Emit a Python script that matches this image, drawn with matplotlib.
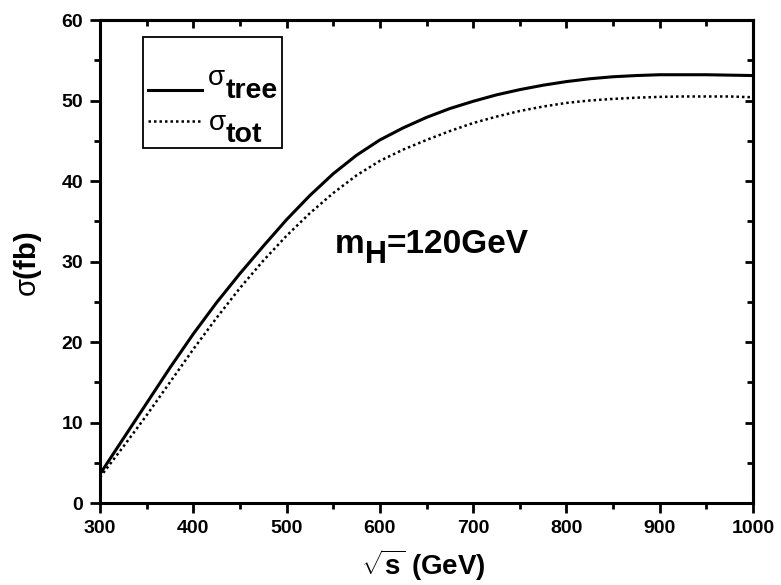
import matplotlib
matplotlib.use("Agg")
import matplotlib.pyplot as plt
from matplotlib.ticker import MultipleLocator
from matplotlib.transforms import IdentityTransform
from matplotlib.lines import Line2D
from matplotlib.patches import Rectangle

plt.rcParams['font.family'] = ['Liberation Sans', 'DejaVu Sans']
plt.rcParams['mathtext.fontset'] = 'custom'
plt.rcParams['mathtext.rm'] = 'Liberation Sans:bold'
plt.rcParams['mathtext.it'] = 'Liberation Sans'
plt.rcParams['mathtext.bf'] = 'Liberation Sans:bold'

sqrt_s = [300, 325, 350, 375, 400, 425, 450, 475, 500, 525, 550, 575, 600, 625, 650,
          675, 700, 725, 750, 775, 800, 825, 850, 875, 900, 925, 950, 975, 1000]
sigma_tree = [3.6, 8.0, 12.4, 16.8, 21.0, 24.9, 28.5, 31.9, 35.2, 38.2, 40.9, 43.2, 45.1, 46.6, 47.9,
              49.0, 49.9, 50.7, 51.35, 51.9, 52.35, 52.7, 52.95, 53.1, 53.2, 53.2, 53.2, 53.15, 53.1]
sigma_tot = [3.2, 7.0, 10.9, 15.0, 19.1, 23.0, 26.7, 30.1, 33.2, 36.0, 38.5, 40.7, 42.5, 43.9, 45.1,
             46.2, 47.2, 48.0, 48.7, 49.25, 49.7, 50.0, 50.2, 50.35, 50.45, 50.5, 50.5, 50.5, 50.4]

W, H = 781, 585
fig = plt.figure(figsize=(W / 100, H / 100), dpi=100)
ax = fig.add_axes([100 / W, (H - 503) / H, 653 / W, 483 / H])

ax.plot(sqrt_s, sigma_tree, color='black', lw=2.2)
ax.plot(sqrt_s, sigma_tot, color='black', lw=1.8, linestyle=(0, (1, 1.2)))

ax.set_xlim(300, 1000)
ax.set_ylim(0, 60)
ax.xaxis.set_major_locator(MultipleLocator(100))
ax.xaxis.set_minor_locator(MultipleLocator(50))
ax.yaxis.set_major_locator(MultipleLocator(10))
ax.yaxis.set_minor_locator(MultipleLocator(5))

for s in ax.spines.values():
    s.set_linewidth(2.2)

ax.tick_params(which='both', direction='out', width=2.0, labelsize=14, top=False, right=False)
ax.tick_params(which='major', length=7, pad=5)
ax.tick_params(which='minor', length=4.5)
for lab in ax.get_xticklabels() + ax.get_yticklabels():
    lab.set_fontweight('bold')

axt = ax.secondary_xaxis('top')
axt.xaxis.set_major_locator(MultipleLocator(100))
axt.xaxis.set_minor_locator(MultipleLocator(50))
axt.tick_params(which='both', direction='in', width=2.0, labeltop=False)
axt.tick_params(which='major', length=6)
axt.tick_params(which='minor', length=4)
axr = ax.secondary_yaxis('right')
axr.yaxis.set_major_locator(MultipleLocator(10))
axr.yaxis.set_minor_locator(MultipleLocator(5))
axr.tick_params(which='both', direction='in', width=2.0, labelright=False)
axr.tick_params(which='major', length=6)
axr.tick_params(which='minor', length=4)
for sax in (axt, axr):
    for s in sax.spines.values():
        s.set_linewidth(2.2)

# axis labels
fig.text(423 / W, (H - 575) / H, r'$\sqrt{\mathbf{s}}$ (GeV)', fontsize=20, fontweight='bold',
         ha='center', va='baseline')
fig.text(28 / W, (H - 264) / H, r'$\sigma$(fb)', fontsize=21, fontweight='bold',
         rotation=90, ha='center', va='center')

ident = IdentityTransform()
fig.canvas.draw()
renderer = fig.canvas.get_renderer()


def seq_text(x, pieces):
    for txt, size, ytop, weight in pieces:
        t = fig.text(x, H - ytop, txt, transform=ident, fontsize=size, fontweight=weight,
                     ha='left', va='baseline')
        x = t.get_window_extent(renderer).x1
    return x


# annotation m_H = 120 GeV
seq_text(335, [('m', 24, 253, 'bold'), ('H', 22, 263, 'bold'), ('=120GeV', 24, 253, 'bold')])

# legend box
fig.add_artist(Rectangle((143, H - 148), 139, 111, transform=ident, fill=False,
                         edgecolor='black', lw=1.3))
fig.add_artist(Line2D([148, 202], [H - 90, H - 90], transform=ident, color='black', lw=2.2))
fig.add_artist(Line2D([148, 200], [H - 120.7, H - 120.7], transform=ident, color='black',
                      lw=1.8, linestyle=(0, (1, 1.2))))
seq_text(208, [('σ', 20, 85, 'normal'), ('tree', 20.5, 98, 'bold')])
seq_text(209, [('σ', 20, 130, 'normal'), ('tot', 20.5, 141.7, 'bold')])

fig.savefig('out.png', dpi=100)
